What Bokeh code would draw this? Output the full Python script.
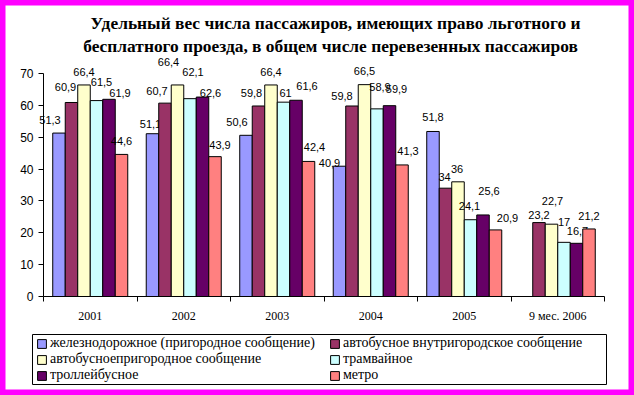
from bokeh.plotting import figure
from bokeh.models import (Range1d, FixedTicker, Legend, LegendItem, BoxAnnotation,
                          ColumnDataSource, Label)
from bokeh.core.properties import value
from bokeh.embed import file_html
from bokeh.resources import INLINE

# ---------------- data ----------------
categories = ["2001", "2002", "2003", "2004", "2005", "9 мес. 2006"]
series_names = [
    "железнодорожное (пригородное сообщение)",
    "автобусное внутригородское сообщение",
    "автобусноепригородное сообщение",
    "трамвайное",
    "троллейбусное",
    "метро",
]
railway = [51.3, 51.1, 50.6, 40.9, 51.8, None]
bus_city = [60.9, 60.7, 59.8, 59.8, 34, 23.2]
bus_suburban = [66.4, 66.4, 66.4, 66.5, 36, 22.7]
tram = [61.5, 62.1, 61, 58.9, 24.1, 17]
trolleybus = [61.9, 62.6, 61.6, 59.9, 25.6, 16.7]
metro = [44.6, 43.9, 42.4, 41.3, 20.9, 21.2]
y_ticks = [0, 10, 20, 30, 40, 50, 60, 70]
title_lines = ["Удельный вес числа пассажиров, имеющих право льготного и",
               "бесплатного проезда, в общем числе перевезенных пассажиров"]

series_values = [railway, bus_city, bus_suburban, tram, trolleybus, metro]

# ---------------- style ----------------
colors = ["#9999FF", "#993366", "#FFFFCC", "#CCFFFF", "#660066", "#FF8080"]
# per-label nudges (pixels) reproducing the original label placement
label_dx = [[-9, -2, -9, -10, 0, 0],
            [-6, -8, -7, -10, -1, 0],
            [0, -9, 0, 0, -1, 1],
            [5, 3, 2, 3, -1, 0],
            [11, 8, 11, 7, 6, 1],
            [0, 5, 6, 6, 12, 0]]
label_dy = [[13, 10, 13, 3, 14, 0],
            [15, 12, 13, 10, 11, 8],
            [13, 23, 13, 14, 13, 23],
            [19, 27, 9, 22, 14, 20],
            [6, 4, 14, 17, 24, 12],
            [13, 12, 14, 14, 12, 13]]

# ---------------- layout (pixels inside the canvas) ----------------
W, H = 634, 395
X_LEFT_PX, X_RIGHT_PX = 43, 604      # category axis from 0 to n
Y_ZERO_PX, Y_TOP_PX = 296, 73        # value axis from 0 to 70
Y_MAX = 70
N = len(categories)
BW = 0.1337                          # bar width as a fraction of a category

sx = (X_RIGHT_PX - X_LEFT_PX) / N
sy = (Y_ZERO_PX - Y_TOP_PX) / Y_MAX
x_start = -X_LEFT_PX / sx
y_end = Y_MAX + Y_TOP_PX / sy


def px2x(px):
    return x_start + px / sx


def px2y(py):
    return y_end - py / sy


p = figure(width=W, height=H, output_backend="svg", toolbar_location=None,
           x_range=Range1d(x_start, x_start + W / sx),
           y_range=Range1d(y_end - H / sy, y_end),
           min_border=0)
p.background_fill_color = "white"
p.border_fill_color = "white"
p.outline_line_color = "#FF00FF"
p.outline_line_width = 10
p.xgrid.visible = False
p.ygrid.visible = False

renderers = []
for j, vals in enumerate(series_values):
    xs, ys, labels, dxs, dys = [], [], [], [], []
    for i, v in enumerate(vals):
        if v is None:
            continue
        xs.append(i + 0.5 + (j - 2.5) * BW)
        ys.append(v)
        labels.append(f"{v:g}".replace(".", ","))
        dxs.append(label_dx[j][i])
        dys.append(-label_dy[j][i])
    src = ColumnDataSource(dict(x=xs, top=ys, label=labels, dx=dxs, dy=dys))
    r = p.vbar(x="x", top="top", width=BW, bottom=0, source=src,
               fill_color=colors[j], line_color="black", line_width=1)
    renderers.append(r)
    p.text(x="x", y="top", text="label", x_offset="dx", y_offset="dy", source=src,
           text_align="center", text_baseline="middle",
           text_font=value("Liberation Sans"), text_font_size="11px", text_color="black")

# y axis
p.yaxis.fixed_location = 0
p.yaxis.bounds = (0, Y_MAX)
p.yaxis.ticker = FixedTicker(ticks=y_ticks)
p.yaxis.minor_tick_line_color = None
p.yaxis.major_tick_in = 0
p.yaxis.major_tick_out = 5
p.yaxis.major_label_standoff = 5
p.yaxis.axis_line_color = "black"
p.yaxis.major_tick_line_color = "black"
p.yaxis.major_label_text_font = "Liberation Sans"
p.yaxis.major_label_text_font_size = "12px"
p.yaxis.major_label_text_color = "black"

# x axis: labels at category centres, tick marks at category boundaries
centers = [i + 0.5 for i in range(N)]
p.xaxis.fixed_location = 0
p.xaxis.bounds = (0, N)
p.xaxis.ticker = FixedTicker(ticks=centers, minor_ticks=list(range(N + 1)))
p.xaxis.major_label_overrides = {c: lab for c, lab in zip(centers, categories)}
p.xaxis.major_tick_in = 0
p.xaxis.major_tick_out = 0
p.xaxis.minor_tick_in = 0
p.xaxis.minor_tick_out = 5
p.xaxis.minor_tick_line_color = "black"
p.xaxis.axis_line_color = "black"
p.xaxis.major_label_standoff = 7
p.xaxis.major_label_text_font = "Liberation Serif"
p.xaxis.major_label_text_font_size = "12px"
p.xaxis.major_label_text_color = "black"

# title (two centred lines)
for line, (tx, ty) in zip(title_lines, [(335, 22), (330, 45)]):
    p.add_layout(Label(x=px2x(tx), y=px2y(ty), text=line,
                       text_align="center", text_baseline="middle",
                       text_font="Liberation Serif", text_font_style="bold",
                       text_font_size="17.4px", text_color="black"))

# legend: framed box with two columns
LEG_L, LEG_R, LEG_T, LEG_B = 32, 606, 334, 384
p.add_layout(BoxAnnotation(left=px2x(LEG_L), right=px2x(LEG_R),
                           top=px2y(LEG_T), bottom=px2y(LEG_B),
                           fill_color="white", fill_alpha=1,
                           line_color="black", line_width=1, line_alpha=1))
for idx, lx in [([0, 2, 4], 36), ([1, 3, 5], 329)]:
    leg = Legend(items=[LegendItem(label=series_names[k], renderers=[renderers[k]]) for k in idx],
                 location=(lx, H - LEG_B + 1))
    leg.label_text_font = "Liberation Serif"
    leg.label_text_font_size = "14px"
    leg.label_text_color = "black"
    leg.glyph_width = 11
    leg.glyph_height = 11
    leg.label_height = 15
    leg.label_standoff = 3
    leg.spacing = 0
    leg.padding = 3
    leg.margin = 0
    leg.border_line_color = None
    leg.background_fill_alpha = 0
    p.add_layout(leg, "center")

open("out.html", "w").write(file_html(p, INLINE))
